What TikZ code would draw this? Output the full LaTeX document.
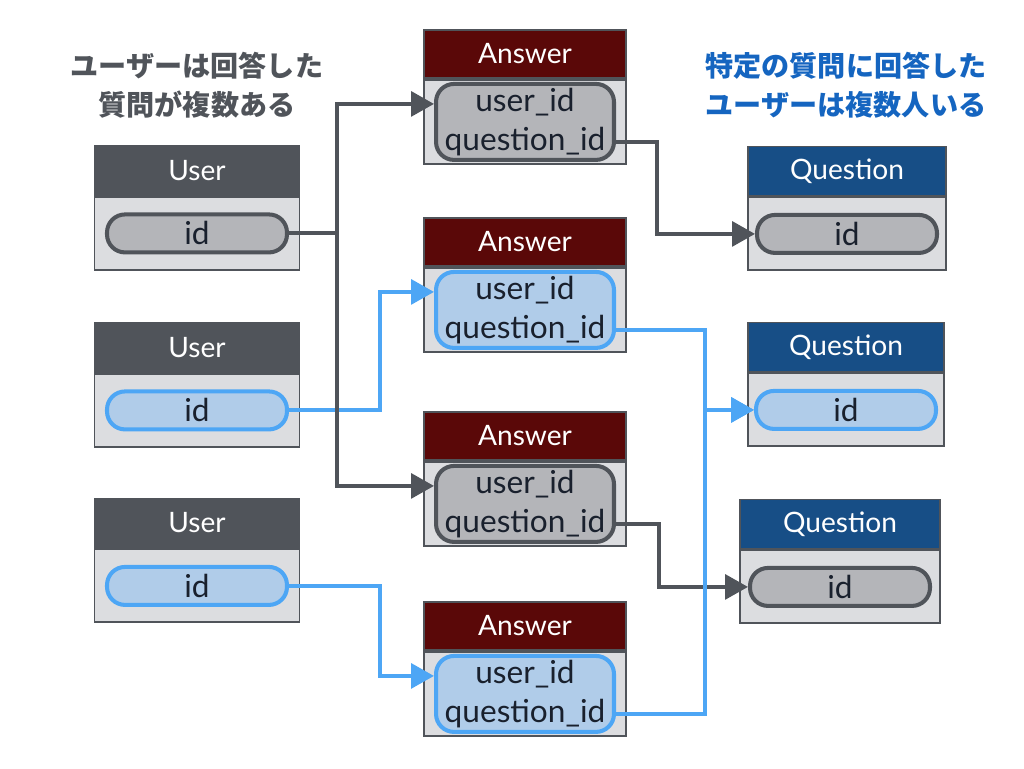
\documentclass[tikz,border=0pt]{standalone}
\usepackage{fontspec}
\setmainfont{Lato}
\newfontfamily\jpfont{Noto Sans CJK JP}
\usetikzlibrary{positioning,arrows.meta}
\definecolor{usergray}{RGB}{80,84,90}
\definecolor{ansred}{RGB}{90,8,8}
\definecolor{qblue}{RGB}{23,78,134}
\definecolor{bodygray}{RGB}{220,221,224}
\definecolor{pillgray}{RGB}{180,181,185}
\definecolor{pillblue}{RGB}{176,204,233}
\definecolor{linkblue}{RGB}{77,166,245}
\definecolor{noteblue}{RGB}{21,101,192}
\definecolor{idtext}{RGB}{25,32,45}

\begin{document}
\begin{tikzpicture}[x=0.02cm, y=-0.02cm,
    head/.style={draw=usergray, line width=1.1pt, text=white, inner sep=0pt,
      font=\fontsize{16}{19}\selectfont},
    body/.style={draw=usergray, fill=bodygray, line width=1.1pt, inner sep=0pt},
    pill/.style={line width=2.3pt, rounded corners=0.36cm, inner sep=0pt,
      text=idtext, align=center, font=\fontsize{18}{22}\selectfont},
    graypill/.style={pill, draw=usergray, fill=pillgray},
    bluepill/.style={pill, draw=linkblue, fill=pillblue},
    link/.style={line width=2.3pt, -{Triangle[length=13pt, width=14pt]}},
    note/.style={align=center, font={\fontsize{16}{22}\selectfont\jpfont\bfseries}}]
  \useasboundingbox (0,0) rectangle (1024,768);
  % Users
  \foreach \n/\y/\c in {1/170.5/gray, 2/347.5/blue, 3/523/blue} {
    \node[head, fill=usergray, minimum width=4.1cm, minimum height=0.98cm] (uhead\n) at (197,\y) {User};
    \node[body, minimum width=4.1cm, minimum height=1.46cm, below=0pt of uhead\n] (ubody\n) {};
    \node[\c pill, minimum width=3.6cm, minimum height=0.76cm] (uid\n) at (ubody\n) {id};
  }
  % Answers
  \foreach \n/\y/\c in {1/54/gray, 2/242/blue, 3/436/gray, 4/626/blue} {
    \node[head, fill=ansred, minimum width=4.04cm, minimum height=0.96cm] (ahead\n) at (525,\y) {Answer};
    \node[body, minimum width=4.04cm, minimum height=1.68cm, below=0pt of ahead\n] (abody\n) {};
    \node[\c pill, minimum width=3.56cm, minimum height=1.52cm] (aid\n) at (abody\n) {user\_id\\question\_id};
  }
  % Questions
  \foreach \n/\x/\y/\w/\c in {1/847/171/3.96/gray, 2/846/347/3.92/blue, 3/840/524/4.0/gray} {
    \node[head, fill=qblue, minimum width=\w cm, minimum height=0.98cm] (qhead\n) at (\x,\y) {Question};
    \node[body, minimum width=\w cm, minimum height=1.46cm, below=0pt of qhead\n] (qbody\n) {};
    \node[\c pill, minimum width=3.6cm, minimum height=0.76cm] (qid\n) at (qbody\n) {id};
  }
  % user -> answer
  \draw[link, linkblue] (uid2.east) -- ++(91,0) |- ([yshift=0.36cm]aid2.west);
  \draw[link, linkblue] (uid3.east) -- ++(91,0) |- ([yshift=0.36cm]aid4.west);
  \draw[link, usergray] (uid1.east) -- ++(48,0) |- ([yshift=0.36cm]aid1.west);
  \draw[link, usergray] (uid1.east) -- ++(48,0) |- ([yshift=0.36cm]aid3.west);
  % answer -> question
  \draw[link, usergray] ([yshift=-0.4cm]aid1.east) -- ++(41,0) |- (qid1.west);
  \draw[link, usergray] ([yshift=-0.4cm]aid3.east) -- ++(43,0) |- (qid3.west);
  \draw[link, linkblue] ([yshift=-0.4cm]aid2.east) -- ++(89,0) |- (qid2.west);
  \draw[link, linkblue] ([yshift=-0.4cm]aid4.east) -- ++(89,0) |- (qid2.west);
  % Notes
  \node[note, text=usergray] (lnote) at (197,85) {ユーザーは回答した\\質問が複数ある};
  \node[note, text=noteblue] (rnote) at (846,85) {特定の質問に回答した\\ユーザーは複数人いる};
\end{tikzpicture}
\end{document}
